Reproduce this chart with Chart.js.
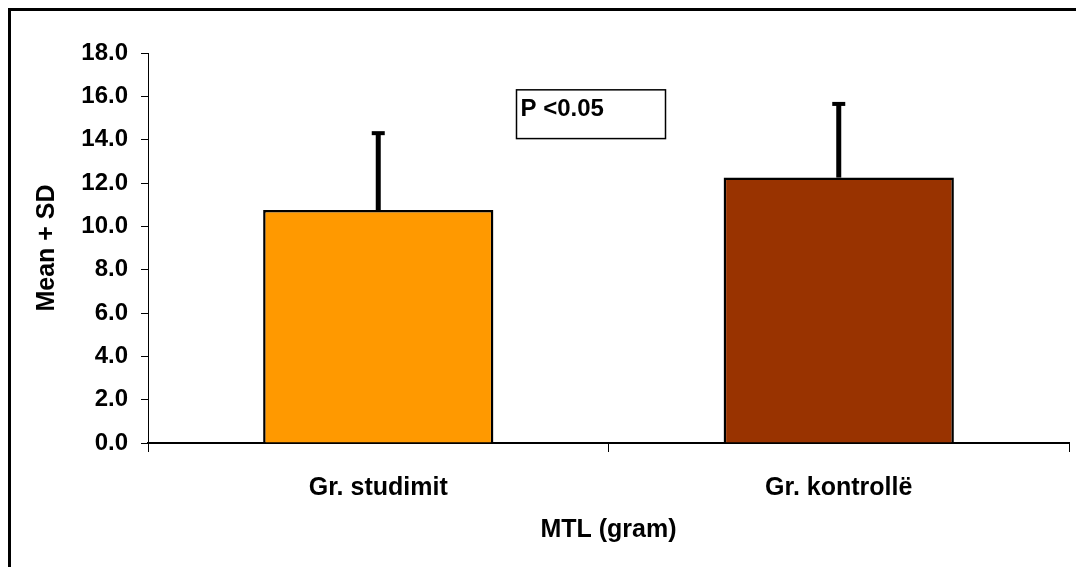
<!DOCTYPE html>
<html>
<head>
<meta charset="utf-8">
<script src="https://cdn.jsdelivr.net/npm/chart.js@4.4.1/dist/chart.umd.min.js"></script>
<style>
  html, body { margin: 0; padding: 0; background: #fff; }
  #wrap { width: 1076px; height: 567px; position: relative; }
</style>
</head>
<body>
<div id="wrap"><canvas id="c" width="1076" height="567"></canvas></div>
<script>
// data
const categories = ['Gr. studimit', 'Gr. kontrollë'];
const means = [10.75, 12.25];
const upperSD = [14.3, 15.65];
const barColors = ['#ff9900', '#993300'];
const yTicks = [0, 2, 4, 6, 8, 10, 12, 14, 16, 18];
const pLabel = 'P <0.05';

const FONT = '"Liberation Sans", Arial, sans-serif';

// frame (top + left only, the picture is cut on the other sides) and white bg
const framePlugin = {
    id: 'frame',
    beforeDraw(chart) {
        const ctx = chart.ctx;
        ctx.save();
        ctx.fillStyle = '#fff';
        ctx.fillRect(0, 0, chart.width, chart.height);
        ctx.strokeStyle = '#000';
        ctx.lineWidth = 3;
        ctx.beginPath();
        ctx.moveTo(9.5, chart.height);
        ctx.lineTo(9.5, 9.5);
        ctx.lineTo(chart.width, 9.5);
        ctx.stroke();
        ctx.restore();
    }
};

// upper SD whiskers
const errorBars = {
    id: 'errorBars',
    afterDatasetsDraw(chart) {
        const ctx = chart.ctx;
        const y = chart.scales.y;
        const meta = chart.getDatasetMeta(0);
        ctx.save();
        ctx.strokeStyle = '#000';
        ctx.fillStyle = '#000';
        meta.data.forEach((bar, i) => {
            const top = y.getPixelForValue(upperSD[i]);
            const base = y.getPixelForValue(means[i]);
            ctx.lineWidth = 5;
            ctx.beginPath();
            ctx.moveTo(bar.x, base);
            ctx.lineTo(bar.x, top);
            ctx.stroke();
            ctx.fillRect(bar.x - 6.5, top - 2, 13, 4);
        });
        ctx.restore();
    }
};

// "P <0.05" box
const pBox = {
    id: 'pBox',
    afterDraw(chart) {
        const ctx = chart.ctx;
        const x = chart.scales.x;
        const y = chart.scales.y;
        const mid = (x.getPixelForValue(0) + x.getPixelForValue(1)) / 2;
        const left = mid - 92, right = mid + 57;
        const top = y.getPixelForValue(16.3), bottom = y.getPixelForValue(14.05);
        ctx.save();
        ctx.fillStyle = '#fff';
        ctx.fillRect(left, top, right - left, bottom - top);
        ctx.strokeStyle = '#000';
        ctx.lineWidth = 1.5;
        ctx.strokeRect(left, top, right - left, bottom - top);
        ctx.fillStyle = '#000';
        ctx.font = 'bold 24px ' + FONT;
        ctx.textBaseline = 'alphabetic';
        ctx.fillText(pLabel, left + 4, top + 26);
        ctx.restore();
    }
};

new Chart(document.getElementById('c'), {
    type: 'bar',
    data: {
        labels: categories,
        datasets: [{
            data: means,
            backgroundColor: barColors,
            borderColor: '#000',
            borderWidth: 2.5,
            categoryPercentage: 1,
            barPercentage: 0.5
        }]
    },
    options: {
        responsive: false,
        animation: false,
        devicePixelRatio: 1,
        layout: { padding: { left: 10, top: 53, right: 7, bottom: 0 } },
        plugins: { legend: { display: false }, tooltip: { enabled: false } },
        scales: {
            x: {
                grid: { display: true, offset: true, drawOnChartArea: false, color: '#000', tickLength: 9 },
                border: { color: '#000', width: 2 },
                ticks: { color: '#000', font: { family: FONT, size: 25, weight: 'bold' }, padding: 21 },
                title: { display: true, text: 'MTL (gram)', color: '#000', font: { family: FONT, size: 25, weight: 'bold' }, padding: { top: 0, bottom: 22 } },
                afterFit(s) { s.height = 124; }
            },
            y: {
                min: 0, max: 18,
                afterBuildTicks(s) { s.ticks = yTicks.map(v => ({ value: v })); },
                grid: { display: true, drawOnChartArea: false, color: '#000', tickLength: 7 },
                border: { color: '#000', width: 1 },
                ticks: { color: '#000', font: { family: FONT, size: 24, weight: 'bold' }, padding: 13, callback: v => Number(v).toFixed(1) },
                title: { display: true, text: 'Mean + SD', color: '#000', font: { family: FONT, size: 25, weight: 'bold' }, padding: { top: 22, bottom: 0 } },
                afterFit(s) { s.width = 138; }
            }
        }
    },
    plugins: [framePlugin, errorBars, pBox]
});
</script>
</body>
</html>
